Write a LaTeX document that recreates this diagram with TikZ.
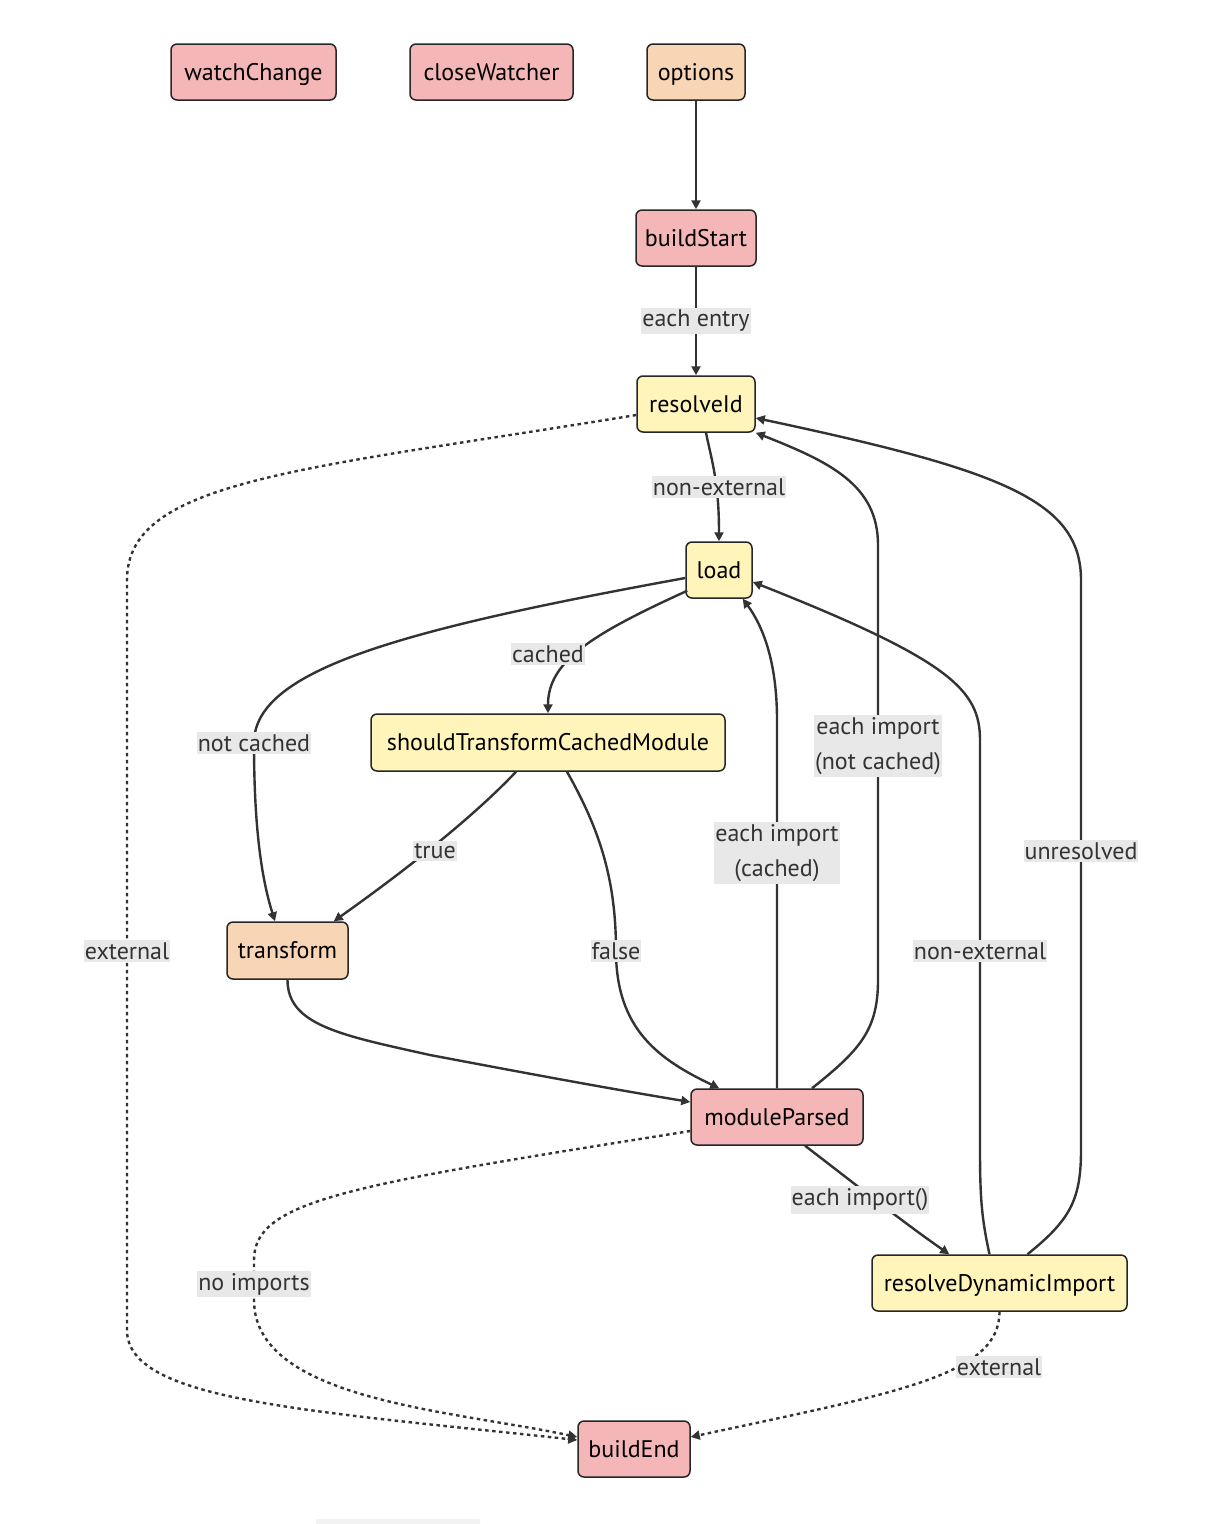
\documentclass[tikz,border=0pt]{standalone}
\usepackage{fontspec}
\setmainfont{PT Sans}
\usetikzlibrary{arrows.meta,calc}
\definecolor{pinkfill}{HTML}{F4B6B6}
\definecolor{peachfill}{HTML}{F8D5B4}
\definecolor{yellowfill}{HTML}{FFF4BA}
\definecolor{edgecol}{HTML}{333333}
\definecolor{lblbg}{HTML}{E8E8E8}
\begin{document}
\begin{tikzpicture}[x=1pt,y=-1pt,
  box/.style={draw=black!85,line width=1.5pt,rounded corners=6pt,minimum height=56pt,inner sep=0pt,text height=20pt,text depth=4pt,font=\fontsize{24}{28}\selectfont,text=black},
  pinkbox/.style={box,fill=pinkfill},
  peachbox/.style={box,fill=peachfill},
  yellowbox/.style={box,fill=yellowfill},
  edge/.style={draw=edgecol,line width=2.4pt,-{Triangle[length=9pt,width=9pt]}},
  dotedge/.style={edge,dash pattern=on 3.5pt off 3.5pt},
  lbl/.style={fill=lblbg,text=edgecol,inner xsep=1pt,inner ysep=2.5pt,font=\fontsize{24}{35}\selectfont,align=center}
]
\path[use as bounding box] (0,0) rectangle (1224,1524);
\fill[white] (0,0) rectangle (1224,1524);

% nodes
\node[pinkbox,minimum width=165pt] (watchChange) at (253.5,72) {watchChange};
\node[pinkbox,minimum width=163pt] (closeWatcher) at (491.5,72) {closeWatcher};
\node[peachbox,minimum width=98pt] (options) at (696,72) {options};
\node[pinkbox,minimum width=120pt] (buildStart) at (696,238) {buildStart};
\node[yellowbox,minimum width=118pt] (resolveId) at (696,404) {resolveId};
\node[yellowbox,minimum width=66pt] (load) at (719,570) {load};
\node[yellowbox,minimum width=354pt,minimum height=57pt] (sTCM) at (548,742.5) {shouldTransformCachedModule};
\node[peachbox,minimum width=121pt,minimum height=57pt] (transform) at (287.5,950.5) {transform};
\node[pinkbox,minimum width=172pt] (moduleParsed) at (777,1117) {moduleParsed};
\node[yellowbox,minimum width=255pt] (rDI) at (999.5,1283) {resolveDynamicImport};
\node[pinkbox,minimum width=112pt] (buildEnd) at (634,1449) {buildEnd};

% edges
\draw[edge] (options) -- (buildStart);
\draw[edge] (buildStart) -- (resolveId);
\draw[edge] ($(resolveId.south)+(10,0)$) .. controls (712,462) and (719,482) .. (load.north);
\draw[edge] ($(load.south west)+(2,-8)$) .. controls (590,635) and (548,662) .. (sTCM.north);
\draw[edge] ($(load.west)+(0,8)$) .. controls (400,630) and (254,670) .. (254,743)
  .. controls (254,830) and (262,880) .. ($(transform.north)+(-12.5,0)$);
\draw[edge] ($(sTCM.south)+(-32,0)$) .. controls (480,810) and (420,860) .. ($(transform.north east)+(-15,0)$);
\draw[edge] ($(sTCM.south)+(19,0)$) .. controls (600,830) and (616,880) .. (616,951)
  .. controls (616,1030) and (660,1060) .. ($(moduleParsed.north west)+(29,0)$);
\draw[edge] (transform.south) .. controls (287.5,1025) and (340,1035) .. (430,1055)
  .. controls (520,1072) and (600,1087) .. ($(moduleParsed.west)+(0,-15)$);
\draw[edge] (moduleParsed.north) -- (777,720) .. controls (777,660) and (762,625) .. ($(load.south east)+(-10,0)$);
\draw[edge] ($(moduleParsed.north)+(35,0)$) .. controls (860,1050) and (878,1030) .. (878,980)
  -- (878,545) .. controls (878,485) and (830,462) .. (resolveId.south east);
\draw[edge] ($(moduleParsed.south)+(28,0)$) .. controls (850,1180) and (900,1220) .. ($(rDI.north west)+(78,0)$);
\draw[edge] ($(rDI.north)+(-10,0)$) .. controls (982,1220) and (980,1200) .. (980,1150)
  -- (980,740) .. controls (980,690) and (950,660) .. ($(load.east)+(0,12)$);
\draw[edge] ($(rDI.north)+(28,0)$) .. controls (1070,1220) and (1081,1200) .. (1081,1150)
  -- (1081,580) .. controls (1081,500) and (1000,470) .. ($(resolveId.east)+(0,14)$);
\draw[dotedge] (rDI.south) .. controls (999.5,1375) and (900,1392) .. ($(buildEnd.east)+(0,-12)$);
\draw[dotedge] ($(resolveId.west)+(0,11)$) .. controls (300,470) and (127,480) .. (127,580)
  -- (127,1330) .. controls (127,1400) and (300,1410) .. ($(buildEnd.west)+(0,-9)$);
\draw[dotedge] ($(moduleParsed.west)+(0,14)$) .. controls (350,1185) and (254,1200) .. (254,1260)
  -- (254,1300) .. controls (254,1400) and (450,1410) .. ($(buildEnd.west)+(0,-12)$);

% labels
\node[lbl] (l1) at (696,321) {each entry};
\node[lbl] (l2) at (719,487) {non-external};
\node[lbl] (l3) at (548,654) {cached};
\node[lbl] (l4) at (254,743) {not cached};
\node[lbl] (l5) at (435,851) {true};
\node[lbl] (l6) at (616,951) {false};
\node[lbl] (l7) at (777,853) {each import\\(cached)};
\node[lbl] (l8) at (878,746) {each import\\(not cached)};
\node[lbl] (l9) at (860,1200) {each import()};
\node[lbl] (l10) at (980,951) {non-external};
\node[lbl] (l11) at (1081,851) {unresolved};
\node[lbl] (l12) at (999,1367) {external};
\node[lbl] (l13) at (127,951) {external};
\node[lbl] (l14) at (254,1284) {no imports};

\fill[black!5,rounded corners=2pt] (316,1519) rectangle (480,1528);
\end{tikzpicture}
\end{document}
